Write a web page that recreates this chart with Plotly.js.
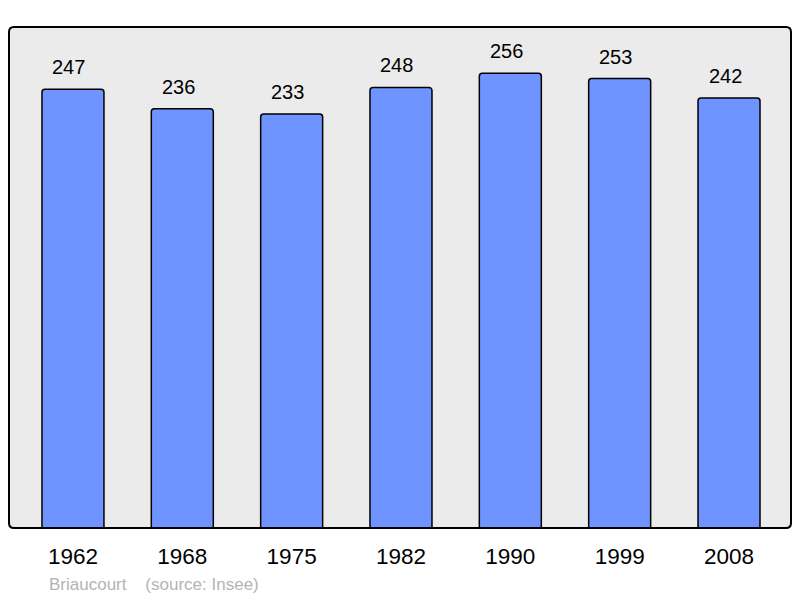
<!DOCTYPE html>
<html><head><meta charset="utf-8">
<script src="https://cdn.plot.ly/plotly-3.0.1.min.js"></script>
<style>body{margin:0;background:#fff}#c{width:800px;height:598px}</style>
</head><body><div id="c"></div>
<script>
const years = ['1962','1968','1975','1982','1990','1999','2008'];
const population = [247,236,233,248,256,253,242];
const sourceText = 'Briaucourt\u00a0\u00a0\u00a0\u00a0(source: Insee)';

const W = 800, H = 598, ml = 9, mr = 9, mt = 27, mb = 70;
const pw = W - ml - mr, ph = H - mt - mb;
const r = 5, rx = r / pw, ry = r / ph;
const framePath = `M ${rx},0 L ${1-rx},0 Q 1,0 1,${ry} L 1,${1-ry} Q 1,1 ${1-rx},1 L ${rx},1 Q 0,1 0,${1-ry} L 0,${ry} Q 0,0 ${rx},0 Z`;

const trace = {
  type: 'bar', x: years.map((_, i) => i), y: population,
  width: 0.567,
  marker: {color: '#7094ff', line: {color: '#000', width: 1.5}, cornerradius: 3},
  hoverinfo: 'none'
};

const annotations = population.map((v, i) => ({
  x: i, y: v, xref: 'x', yref: 'y', text: String(v), showarrow: false,
  yshift: 22, xshift: -4, font: {family: 'Liberation Sans, Arial, sans-serif', size: 20, color: '#000'}
}));
annotations.push({
  xref: 'paper', yref: 'paper', x: 38 / pw, y: -56 / ph, xanchor: 'left', yanchor: 'middle',
  text: sourceText, showarrow: false,
  font: {family: 'Liberation Sans, Arial, sans-serif', size: 17, color: '#b4b4b4'}
});

const layout = {
  width: W, height: H,
  margin: {l: ml, r: mr, t: mt, b: mb, pad: 0},
  paper_bgcolor: '#fff', plot_bgcolor: '#ebebeb',
  showlegend: false,
  xaxis: {
    range: [-0.585, 6.567], tickmode: 'array', tickvals: years.map((_, i) => i), ticktext: years,
    showgrid: false, zeroline: false, showline: false, ticks: '', ticklabelstandoff: 12,
    tickfont: {family: 'Liberation Sans, Arial, sans-serif', size: 22.5, color: '#000'}
  },
  yaxis: {range: [0, 282], showgrid: false, zeroline: false, showline: false, showticklabels: false, ticks: ''},
  shapes: [{type: 'path', xref: 'paper', yref: 'paper', path: framePath, line: {color: '#000', width: 2}, layer: 'above'}],
  annotations: annotations
};

Plotly.newPlot('c', [trace], layout, {staticPlot: true});
</script></body></html>
